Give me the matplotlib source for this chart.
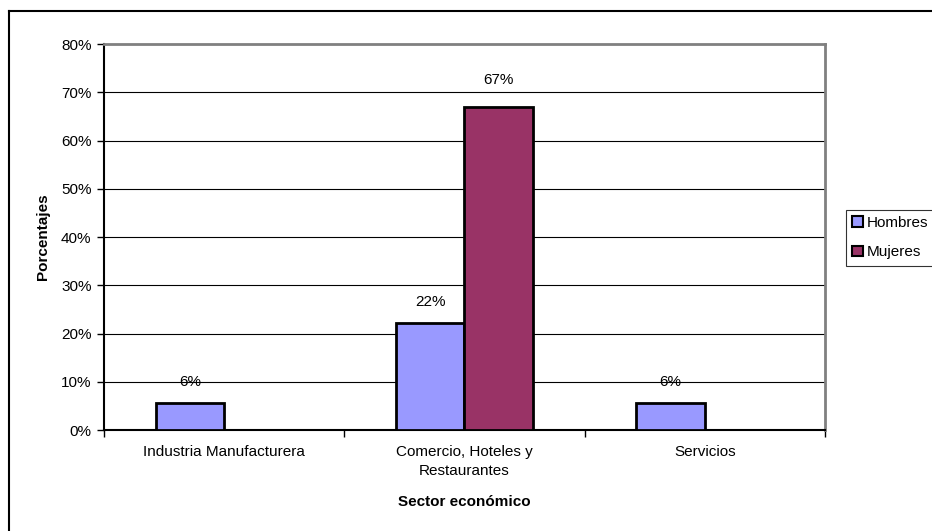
import matplotlib
matplotlib.use("Agg")
import matplotlib.pyplot as plt
import numpy as np
from matplotlib.lines import Line2D
from matplotlib.patches import Patch

plt.rcParams['font.family'] = ['Liberation Sans', 'DejaVu Sans']

categories = ["Industria Manufacturera", "Comercio, Hoteles y\nRestaurantes", "Servicios"]
hombres = [5.6, 22.2, 5.6]
mujeres = [0.0, 67.0, 0.0]
hombres_labels = ["6%", "22%", "6%"]
mujeres_labels = ["", "67%", ""]
yticks = [0, 10, 20, 30, 40, 50, 60, 70, 80]

FS = 11

fig = plt.figure(figsize=(9.32, 5.31), dpi=100)
ax = fig.add_axes([0.1116, 0.190, 0.7734, 0.727])

x = np.arange(len(categories))
w = 0.285
c_h = "#9999FF"
c_m = "#993366"
ax.bar(x - w/2, hombres, w, color=c_h, edgecolor="black", linewidth=2, zorder=3)
ax.bar(x + w/2, mujeres, w, color=c_m, edgecolor="black", linewidth=2, zorder=3)

for xi, v, lab in zip(x, hombres, hombres_labels):
    if lab:
        ax.text(xi - w/2, v + 3.0, lab, ha="center", va="bottom", fontsize=FS)
for xi, v, lab in zip(x, mujeres, mujeres_labels):
    if lab:
        ax.text(xi + w/2, v + 4.2, lab, ha="center", va="bottom", fontsize=FS)

ax.set_xlim(-0.5, len(categories) - 0.5)
ax.set_ylim(0, 80)
ax.set_yticks(yticks)
ax.set_yticklabels([f"{t}%" for t in yticks], fontsize=FS)
ax.yaxis.grid(True, color="black", linewidth=0.8, zorder=0)
ax.set_axisbelow(True)

ax.set_xticks(x)
ax.set_xticklabels(categories, fontsize=FS, linespacing=1.45)
ax.tick_params(axis="x", length=0, pad=11)
ax.set_xticks(np.arange(-0.5, len(categories)), minor=True)
ax.tick_params(axis="x", which="minor", length=5, width=1, direction="out")
ax.tick_params(axis="y", length=5, width=1, direction="out", pad=4)

for s in ["left", "bottom"]:
    ax.spines[s].set_color("black")
    ax.spines[s].set_linewidth(1.5)
for s in ["top", "right"]:
    ax.spines[s].set_color("#808080")
    ax.spines[s].set_linewidth(2)

ax.set_ylabel("Porcentajes", fontsize=FS, fontweight="bold", labelpad=8)
ax.set_xlabel("Sector económico", fontsize=FS, fontweight="bold", labelpad=12)

handles = [Patch(facecolor=c_h, edgecolor="black", linewidth=1.5, label="Hombres"),
           Patch(facecolor=c_m, edgecolor="black", linewidth=1.5, label="Mujeres")]
leg = fig.legend(handles=handles, loc="upper left", bbox_to_anchor=(846/932, 1 - 210/531),
                 fontsize=FS, frameon=True, fancybox=False, edgecolor="black",
                 handlelength=0.7, handleheight=0.7, handletextpad=0.25,
                 borderpad=0.4, labelspacing=1.0, borderaxespad=0)
leg.get_frame().set_linewidth(0.8)

fig.add_artist(Line2D([8.5/932, 8.5/932], [0, 1 - 10.5/531], color="black", linewidth=1.5,
                      transform=fig.transFigure))
fig.add_artist(Line2D([8.5/932, 1], [1 - 10.5/531, 1 - 10.5/531], color="black", linewidth=1.5,
                      transform=fig.transFigure))

fig.savefig("out.png", dpi=100)
